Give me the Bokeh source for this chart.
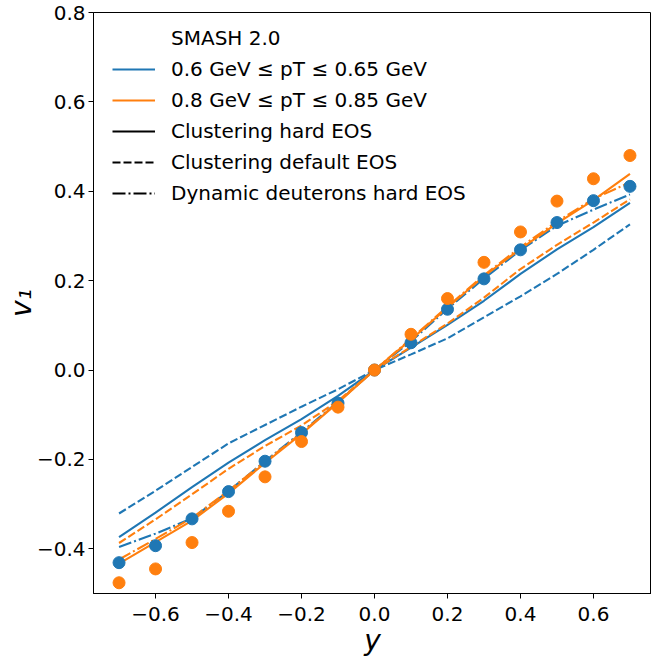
import numpy as np
from bokeh.plotting import figure
from bokeh.models import (Legend, LegendItem, FixedTicker, CustomJSTickFormatter,
                          ColumnDataSource, Range1d)
from bokeh.embed import file_html
from bokeh.resources import INLINE

# ---- data ----
rapidity = [-0.7, -0.6, -0.5, -0.4, -0.3, -0.2, -0.1, 0.0, 0.1, 0.2, 0.3, 0.4, 0.5, 0.6, 0.7]

blue_points = [-0.431, -0.393, -0.333, -0.272, -0.204, -0.140, -0.074, 0.0,
               0.061, 0.136, 0.204, 0.269, 0.330, 0.379, 0.411]
orange_points = [-0.476, -0.445, -0.386, -0.316, -0.239, -0.160, -0.083, 0.0,
                 0.080, 0.160, 0.241, 0.309, 0.378, 0.428, 0.480]

blue_hard = [-0.374, -0.319, -0.262, -0.207, -0.157, -0.110, -0.058, 0.0,
             0.050, 0.101, 0.155, 0.215, 0.270, 0.320, 0.374]
blue_default = [-0.321, -0.270, -0.217, -0.164, -0.123, -0.082, -0.043, 0.0,
                0.035, 0.071, 0.118, 0.165, 0.215, 0.269, 0.326]
blue_dynamic = [-0.396, -0.366, -0.332, -0.271, -0.204, -0.139, -0.071, 0.0,
                0.064, 0.137, 0.205, 0.268, 0.323, 0.359, 0.393]

orange_hard = [-0.433, -0.385, -0.337, -0.276, -0.208, -0.143, -0.073, 0.0,
               0.068, 0.140, 0.210, 0.271, 0.328, 0.380, 0.439]
orange_default = [-0.387, -0.334, -0.278, -0.221, -0.170, -0.124, -0.069, 0.0,
                  0.052, 0.104, 0.162, 0.226, 0.280, 0.330, 0.382]
orange_dynamic = [-0.424, -0.378, -0.331, -0.270, -0.205, -0.141, -0.072, 0.0,
                  0.070, 0.142, 0.212, 0.275, 0.332, 0.383, 0.420]

x_ticks = [-0.6, -0.4, -0.2, 0.0, 0.2, 0.4, 0.6]
y_ticks = [-0.4, -0.2, 0.0, 0.2, 0.4, 0.6, 0.8]

legend_title = "SMASH 2.0"
pt_labels = ["0.6 GeV \u2264 pT \u2264 0.65 GeV", "0.8 GeV \u2264 pT \u2264 0.85 GeV"]
eos_labels = ["Clustering hard EOS", "Clustering default EOS", "Dynamic deuterons hard EOS"]

BLUE = "#1f77b4"
ORANGE = "#ff7f0e"
FONT = "DejaVu Sans"
DASH = "8 3"
DASHDOT = "13 3 2 3"
LW = 2.1

p = figure(width=651, height=659, output_backend="svg", toolbar_location=None,
           x_range=Range1d(-0.77, 0.759), y_range=Range1d(-0.5, 0.8),
           min_border_left=93, min_border_right=0, min_border_top=12, min_border_bottom=66)

p.xgrid.visible = False
p.ygrid.visible = False
p.outline_line_color = "black"
p.outline_line_width = 1
p.background_fill_color = "white"
p.border_fill_color = "white"

src = ColumnDataSource(dict(x=rapidity, bp=blue_points, op=orange_points,
                            bh=blue_hard, bd=blue_default, by=blue_dynamic,
                            oh=orange_hard, od=orange_default, oy=orange_dynamic))

p.line("x", "bh", source=src, line_color=BLUE, line_width=LW)
p.line("x", "bd", source=src, line_color=BLUE, line_width=LW, line_dash=DASH)
p.line("x", "by", source=src, line_color=BLUE, line_width=LW, line_dash=DASHDOT)
p.line("x", "oh", source=src, line_color=ORANGE, line_width=LW)
p.line("x", "od", source=src, line_color=ORANGE, line_width=LW, line_dash=DASH)
p.line("x", "oy", source=src, line_color=ORANGE, line_width=LW, line_dash=DASHDOT)
p.scatter("x", "bp", source=src, size=12, fill_color=BLUE, line_color=BLUE)
p.scatter("x", "op", source=src, size=12, fill_color=ORANGE, line_color=ORANGE)

# legend proxies (no visible data)
def proxy(**kw):
    s = ColumnDataSource(dict(x=[np.nan], y=[np.nan]))
    return p.line("x", "y", source=s, line_width=LW, **kw)

r_title = proxy(line_alpha=0)
r_b = proxy(line_color=BLUE)
r_o = proxy(line_color=ORANGE)
r_s = proxy(line_color="black")
r_d = proxy(line_color="black", line_dash=DASH)
r_dd = proxy(line_color="black", line_dash=DASHDOT)

legend = Legend(items=[
    LegendItem(label=legend_title, renderers=[r_title]),
    LegendItem(label=pt_labels[0], renderers=[r_b]),
    LegendItem(label=pt_labels[1], renderers=[r_o]),
    LegendItem(label=eos_labels[0], renderers=[r_s]),
    LegendItem(label=eos_labels[1], renderers=[r_d]),
    LegendItem(label=eos_labels[2], renderers=[r_dd]),
], location=(19, 388))
legend.label_text_font = FONT
legend.label_text_font_size = "20px"
legend.label_text_color = "black"
legend.glyph_width = 43
legend.glyph_height = 20
legend.label_height = 20
legend.label_standoff = 16
legend.spacing = 7
legend.padding = 0
legend.margin = 0
legend.border_line_alpha = 0
legend.background_fill_alpha = 0
p.add_layout(legend)

fmt = CustomJSTickFormatter(code="""
    if (Math.abs(tick) < 1e-9) { return '0.0'; }
    return tick.toFixed(1).replace('-', '\\u2212');
""")

for ax, ticks in ((p.xaxis[0], x_ticks), (p.yaxis[0], y_ticks)):
    ax.ticker = FixedTicker(ticks=ticks)
    ax.formatter = fmt
    ax.minor_tick_line_color = None
    ax.major_tick_in = 0
    ax.major_tick_out = 5
    ax.major_tick_line_color = "black"
    ax.major_tick_line_width = 1
    ax.axis_line_color = "black"
    ax.axis_line_width = 1
    ax.major_label_text_font = FONT
    ax.major_label_text_font_size = "20px"
    ax.major_label_text_color = "black"
    ax.axis_label_text_font = FONT
    ax.axis_label_text_font_size = "28px"
    ax.axis_label_text_font_style = "italic"
    ax.axis_label_text_color = "black"

p.xaxis.axis_label = "y"
p.yaxis.axis_label = "v\u2081"
p.xaxis.major_label_standoff = 8
p.xaxis.axis_label_standoff = 0
p.yaxis.major_label_standoff = 3
p.yaxis.axis_label_standoff = -4

with open("out.html", "w", encoding="utf-8") as f:
    f.write(file_html(p, INLINE))
